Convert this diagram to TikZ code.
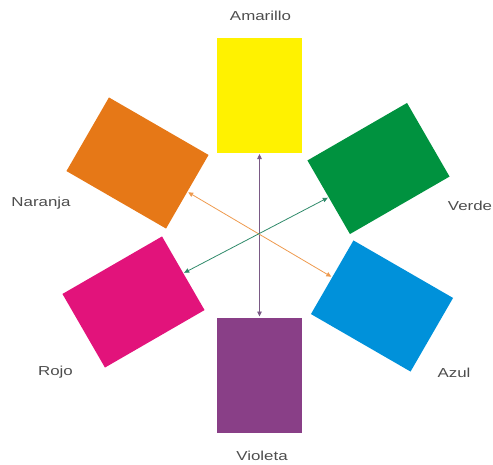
\documentclass[tikz,border=0pt]{standalone}
\usepackage{fontspec}
\setmainfont{Liberation Sans}[FakeStretch=1.3]
\usetikzlibrary{arrows.meta}
\definecolor{cY}{HTML}{FFF200}
\definecolor{cO}{HTML}{E67817}
\definecolor{cG}{HTML}{00923F}
\definecolor{cB}{HTML}{0091DA}
\definecolor{cR}{HTML}{E2137B}
\definecolor{cV}{HTML}{893F87}
\definecolor{aV}{HTML}{7A5A85}
\definecolor{aO}{HTML}{EE9A4E}
\definecolor{aG}{HTML}{2F8A6A}
\definecolor{txt}{HTML}{4D4D4D}
\begin{document}
\begin{tikzpicture}[x=1pt,y=-1pt,
  swatch/.style={rectangle, minimum width=85pt, minimum height=115pt, inner sep=0pt, outer sep=0pt},
  lbl/.style={font=\fontsize{13}{15}\selectfont, text=txt, anchor=base, inner sep=0pt},
  link/.style={line width=0.8pt, {Triangle[length=5pt,width=4.5pt]}-{Triangle[length=5pt,width=4.5pt]}, shorten >=1pt, shorten <=1pt}]
\useasboundingbox (0,0) rectangle (493,464);
\node[swatch, fill=cY] (Y) at (259.5,95.5) {};
\node[swatch, fill=cO, rotate=60] (O) at (137.5,163) {};
\node[swatch, fill=cR, rotate=120] (R) at (133.5,302) {};
\node[swatch, fill=cV, rotate=180] (V) at (259.5,375) {};
\node[swatch, fill=cB, rotate=240] (B) at (382,306) {};
\node[swatch, fill=cG, rotate=-60] (G) at (378.5,168.5) {};
\draw[link, aV] (Y.south) -- (V.south);
\draw[link, aO] (O.south) -- (B.south);
\draw[link, aG] (G.south) -- (R.south);
\node[lbl] (lY) at (260.5,20) {Amarillo};
\node[lbl] (lO) at (41,206) {Naranja};
\node[lbl] (lG) at (470,210) {Verde};
\node[lbl] (lR) at (55.5,375) {Rojo};
\node[lbl] (lB) at (454,377) {Azul};
\node[lbl] (lV) at (262,460) {Violeta};
\end{tikzpicture}
\end{document}
